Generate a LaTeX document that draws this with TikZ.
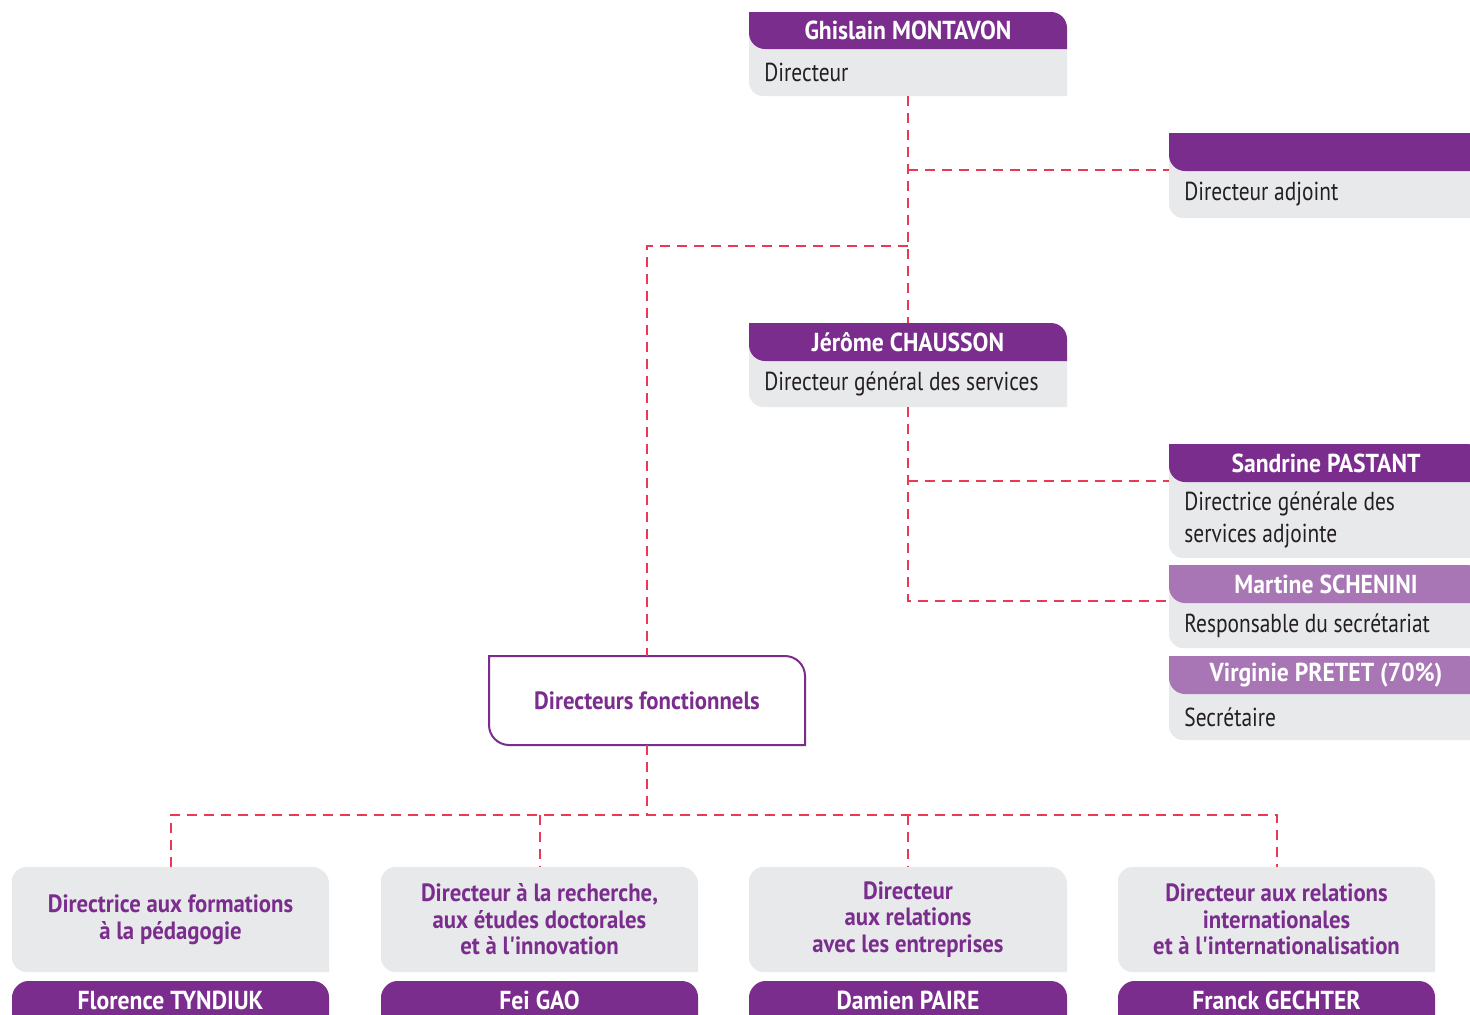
\documentclass[tikz,border=0pt]{standalone}
\usepackage{fontspec}
\setmainfont{PT Sans}[FakeStretch=0.824, Ligatures=TeXOff, BoldFeatures={FakeStretch=0.91}]
\usetikzlibrary{fit}
\definecolor{hdrpurple}{HTML}{7B2D8E}
\definecolor{hdrlight}{HTML}{A876B4}
\definecolor{cardgrey}{HTML}{E8E9EB}
\definecolor{linkred}{HTML}{E93A55}
\definecolor{roleink}{HTML}{231F20}
\tikzset{
  area/.style={inner sep=0pt, outer sep=0pt, draw=none},
  conn/.style={draw=linkred, line width=1pt, dash pattern=on 5pt off 3.5pt},
  hdrtext/.style={text=white, font=\fontsize{13}{15}\selectfont\bfseries, inner sep=0pt},
  roletext/.style={text=roleink, font=\fontsize{13}{16}\selectfont, inner sep=0pt, align=left, anchor=west},
  botrole/.style={text=hdrpurple, font=\fontsize{12.5}{13.3}\selectfont\bfseries, inner sep=0pt, align=center},
  fonctext/.style={text=hdrpurple, font=\fontsize{12.5}{15}\selectfont\bfseries, inner sep=0pt},
  foncline/.style={draw=hdrpurple, line width=1pt, fill=white},
}
% #1 name, #2 x1, #3 top, #4 x2, #5 header bottom, #6 bottom, #7 header colour, #8 header text, #9 role
\newcommand\topcard[9]{%
  \fill[cardgrey] (#2,{#5-16}) -- (#4,{#5-16}) -- (#4,#6) -- ({#2+14},#6)
     .. controls ({#2+6.3},#6) and (#2,{#6-6.3}) .. (#2,{#6-14}) -- cycle;
  \fill[#7] (#2,#3) -- ({#4-16},#3) .. controls ({#4-7.2},#3) and (#4,{#3+7.2}) .. (#4,{#3+16})
     -- (#4,#5) -- ({#2+16},#5) .. controls ({#2+7.2},#5) and (#2,{#5-7.2}) .. (#2,{#5-16}) -- cycle;
  \node[hdrtext] at ({(#2+#4)/2},{(#3+#5)/2}) {#8};
  \node[roletext] at ({#2+15},{(#5+#6)/2}) {#9};
  \node[area, fit={(#2,#3) (#4,#6)}] (#1) {};
}
% #1 name, #2 x1, #3 x2, #4 role, #5 person
\newcommand\botcard[5]{%
  \fill[cardgrey] (#3,972) -- (#3,883) .. controls (#3,{883-7.2}) and ({#3-7.2},867) .. ({#3-16},867)
     -- ({#2+14},867) .. controls ({#2+6.3},867) and (#2,{867+6.3}) .. (#2,881)
     -- (#2,958) .. controls (#2,{958+6.3}) and ({#2+6.3},972) .. ({#2+14},972) -- cycle;
  \fill[hdrpurple] (#2,1040) -- (#2,997) .. controls (#2,{997-7.2}) and ({#2+7.2},981) .. ({#2+16},981)
     -- ({#3-16},981) .. controls ({#3-7.2},981) and (#3,{981+7.2}) .. (#3,997) -- (#3,1040) -- cycle;
  \node[botrole] at ({(#2+#3)/2},919.5) {#4};
  \node[hdrtext] at ({(#2+#3)/2},1000) {#5};
  \node[area, fit={(#2,867) (#3,972)}] (#1) {};
}
\begin{document}
\begin{tikzpicture}[x=0.5pt,y=-0.5pt]
\useasboundingbox (0,0) rectangle (1470,1014);
\clip (0,0) rectangle (1470,1014);
\fill[white] (0,0) rectangle (1470,1014);

\coordinate (jA) at (908,246);
\coordinate (jB) at (647,815);
\coordinate (adjin) at (1169,170);
\coordinate (sanin) at (1169,481);
\coordinate (marin) at (1169,601);

% cards
\topcard{dir}{749}{12}{1067}{49}{96}{hdrpurple}{Ghislain MONTAVON}{Directeur}
\topcard{adj}{1169}{133}{1500}{171}{218}{hdrpurple}{}{Directeur adjoint}
\topcard{dgs}{749}{323}{1067}{361}{407}{hdrpurple}{Jérôme CHAUSSON}{Directeur général des services}
\topcard{san}{1169}{444}{1483}{482}{558}{hdrpurple}{Sandrine PASTANT}{Directrice générale des\\services adjointe}
\topcard{mar}{1169}{565}{1483}{603}{648}{hdrlight}{Martine SCHENINI}{Responsable du secrétariat}
\topcard{vir}{1169}{656}{1483}{694}{740}{hdrlight}{Virginie PRETET (70\%)}{Secrétaire}

% functional directors box
\draw[foncline] (489,656) -- (785,656) .. controls (796,656) and (805,665) .. (805,676)
   -- (805,745) -- (509,745) .. controls (498,745) and (489,736) .. (489,725) -- cycle;
\node[area, fit={(489,656) (805,745)}] (fonc) {};
\node[fonctext] at (fonc.center) {Directeurs fonctionnels};

\botcard{b1}{12}{329}{Directrice aux formations\\à la pédagogie}{Florence TYNDIUK}
\botcard{b2}{381}{698}{Directeur à la recherche,\\aux études doctorales\\et à l'innovation}{Fei GAO}
\botcard{b3}{749}{1067}{Directeur\\aux relations\\avec les entreprises}{Damien PAIRE}
\botcard{b4}{1118}{1435}{Directeur aux relations\\internationales\\et à l'internationalisation}{Franck GECHTER}

% dashed links
\draw[conn] (dir.south) -- (dgs.north);
\draw[conn] (dir.south |- adjin) -- (adjin);
\draw[conn] (jA) -- (fonc.north |- jA) -- (fonc.north);
\draw[conn] (dgs.south) -- (dgs.south |- marin) -- (marin);
\draw[conn] (dgs.south |- sanin) -- (sanin);
\draw[conn] (fonc.south) -- (jB);
\draw[conn] (b1.north) -- (b1.north |- jB) -- (b4.north |- jB) -- (b4.north);
\draw[conn] (b2.north |- jB) -- (b2.north);
\draw[conn] (b3.north |- jB) -- (b3.north);
\end{tikzpicture}
\end{document}
